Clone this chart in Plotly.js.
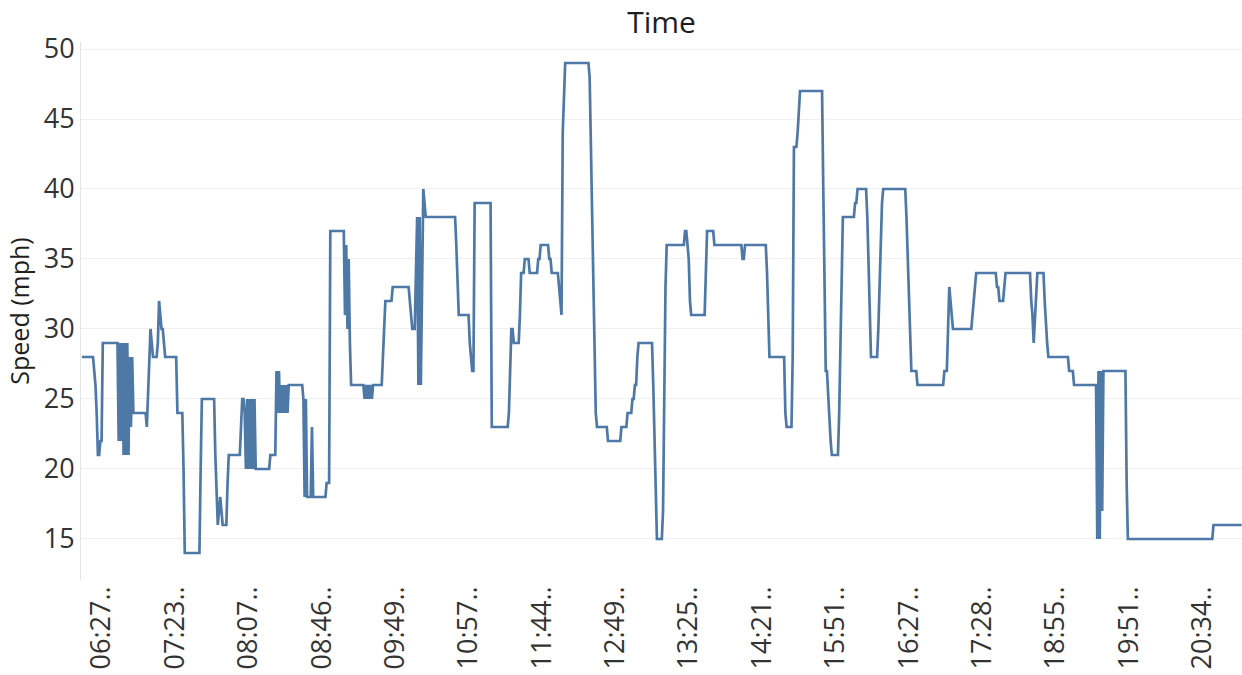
<!DOCTYPE html>
<html>
<head>
<meta charset="utf-8">
<script src="https://cdn.plot.ly/plotly-3.0.1.min.js"></script>
<style>
  html, body { margin: 0; padding: 0; background: #fff; }
  #plot { width: 1242px; height: 675px; }
</style>
</head>
<body>
<div id="plot"></div>
<script>
// speed per record, in record order (mph), 20 records per row
const speed = [
  28,28,28,28,28,28,28,28,28,28,27,26,24,21,21,22,22,29,29,29,
  29,29,29,29,29,29,29,29,29,29,22,29,22,29,21,29,21,29,21,28,
  23,28,24,24,24,24,24,24,24,24,24,24,24,23,25,28,30,29,28,28,
  28,28,29,32,31,30,30,29,28,28,28,28,28,28,28,28,28,28,24,24,
  24,24,24,20,14,14,14,14,14,14,14,14,14,14,14,14,14,20,25,25,
  25,25,25,25,25,25,25,25,25,21,18,16,17,18,17,16,16,16,16,19,
  21,21,21,21,21,21,21,21,21,21,23,25,25,24,20,25,20,25,20,25,
  20,25,20,20,20,20,20,20,20,20,20,20,20,20,21,21,21,21,21,27,
  24,27,24,26,24,26,24,26,24,26,26,26,26,26,26,26,26,26,26,26,
  26,25,18,25,18,18,18,18,23,18,18,18,18,18,18,18,18,18,18,18,
  19,19,19,37,37,37,37,37,37,37,37,37,37,37,37,31,36,30,35,29,
  26,26,26,26,26,26,26,26,26,26,26,25,26,25,26,25,26,25,26,26,
  26,26,26,26,26,26,28,30,32,32,32,32,32,32,33,33,33,33,33,33,
  33,33,33,33,33,33,33,33,32,31,30,30,30,34,38,26,38,26,34,40,
  39,38,38,38,38,38,38,38,38,38,38,38,38,38,38,38,38,38,38,38,
  38,38,38,38,38,38,36,33,31,31,31,31,31,31,31,31,31,29,28,27,
  27,39,39,39,39,39,39,39,39,39,39,39,39,39,39,23,23,23,23,23,
  23,23,23,23,23,23,23,23,23,24,27,30,30,29,29,29,29,29,31,34,
  34,34,35,35,35,35,34,34,34,34,34,34,34,35,35,36,36,36,36,36,
  36,36,35,35,34,34,34,34,34,34,33,32,31,44,47,49,49,49,49,49,
  49,49,49,49,49,49,49,49,49,49,49,49,49,49,49,48,43,38,32,27,
  24,23,23,23,23,23,23,23,23,23,22,22,22,22,22,22,22,22,22,22,
  22,23,23,23,23,23,24,24,24,24,25,25,26,26,28,29,29,29,29,29,
  29,29,29,29,29,29,29,26,22,18,15,15,15,15,15,17,25,33,36,36,
  36,36,36,36,36,36,36,36,36,36,36,36,36,37,37,36,35,32,31,31,
  31,31,31,31,31,31,31,31,31,31,34,37,37,37,37,37,37,36,36,36,
  36,36,36,36,36,36,36,36,36,36,36,36,36,36,36,36,36,36,36,36,
  35,35,36,36,36,36,36,36,36,36,36,36,36,36,36,36,36,36,36,36,
  34,31,28,28,28,28,28,28,28,28,28,28,28,28,28,24,23,23,23,23,
  23,28,43,43,43,44,46,47,47,47,47,47,47,47,47,47,47,47,47,47,
  47,47,47,47,47,47,40,33,27,27,25,23,22,21,21,21,21,21,21,24,
  28,34,38,38,38,38,38,38,38,38,38,38,39,39,40,40,40,40,40,40,
  40,40,38,34,31,28,28,28,28,28,28,30,33,36,39,40,40,40,40,40,
  40,40,40,40,40,40,40,40,40,40,40,40,40,40,38,35,32,29,27,27,
  27,27,27,26,26,26,26,26,26,26,26,26,26,26,26,26,26,26,26,26,
  26,26,26,26,26,27,27,27,30,33,32,31,30,30,30,30,30,30,30,30,
  30,30,30,30,30,30,30,30,31,32,33,34,34,34,34,34,34,34,34,34,
  34,34,34,34,34,34,34,34,33,33,32,32,32,32,33,34,34,34,34,34,
  34,34,34,34,34,34,34,34,34,34,34,34,34,34,34,34,32,31,29,31,
  33,34,34,34,34,34,34,32,30,29,28,28,28,28,28,28,28,28,28,28,
  28,28,28,28,28,28,28,27,27,27,27,26,26,26,26,26,26,26,26,26,
  26,26,26,26,26,26,26,26,26,26,15,27,15,27,17,27,27,27,27,27,
  27,27,27,27,27,27,27,27,27,27,27,27,27,27,19,15,15,15,15,15,
  15,15,15,15,15,15,15,15,15,15,15,15,15,15,15,15,15,15,15,15,
  15,15,15,15,15,15,15,15,15,15,15,15,15,15,15,15,15,15,15,15,
  15,15,15,15,15,15,15,15,15,15,15,15,15,15,15,15,15,15,15,15,
  15,15,15,15,15,16,16,16,16,16,16,16,16,16,16,16,16,16,16,16,
  16,16,16,16,16,16,16,16,16
];

// every 60th record carries a (truncated) time label, starting at record 16
const tickLabels = [
  '06:27..', '07:23..', '08:07..', '08:46..', '09:49..', '10:57..', '11:44..', '12:49..',
  '13:25..', '14:21..', '15:51..', '16:27..', '17:28..', '18:55..', '19:51..', '20:34..'
];
const firstTick = 16;
const tickStep = 60;

const record = speed.map((v, i) => i);
const tickVals = tickLabels.map((t, j) => firstTick + j * tickStep);

const FONT = '"Open Sans", "DejaVu Sans", sans-serif';
const TEXT = '#333333';

const data = [{
  x: record,
  y: speed,
  type: 'scatter',
  mode: 'lines',
  line: { color: '#4e79a7', width: 2.7 },
  hoverinfo: 'skip'
}];

const layout = {
  width: 1242,
  height: 675,
  paper_bgcolor: '#ffffff',
  plot_bgcolor: '#ffffff',
  showlegend: false,
  font: { family: FONT, color: TEXT },
  margin: { l: 81, r: 0, t: 42, b: 95, pad: 0 },
  title: {
    text: 'Time',
    font: { family: FONT, size: 30, color: '#1e1e1e' },
    x: 0.5, xref: 'paper', xanchor: 'center',
    y: 1 - 22 / 675, yref: 'container', yanchor: 'middle'
  },
  xaxis: {
    range: [-0.82, 948.3],
    tickvals: tickVals,
    ticktext: tickLabels,
    tickangle: -90,
    tickfont: { family: FONT, size: 27, color: TEXT },
    ticks: '',
    showgrid: false,
    zeroline: false,
    showline: false,
    fixedrange: true
  },
  yaxis: {
    range: [12.07, 50.5],
    tick0: 0,
    dtick: 5,
    tickfont: { family: FONT, size: 27, color: TEXT },
    ticks: '',
    gridcolor: '#f0f0f0',
    gridwidth: 1,
    zeroline: false,
    showline: true,
    linecolor: '#e4e4e4',
    linewidth: 1,
    title: {
      text: 'Speed (mph)',
      font: { family: FONT, size: 25, color: '#1e1e1e' },
      standoff: 6
    },
    fixedrange: true
  }
};

Plotly.newPlot('plot', data, layout, { displayModeBar: false, staticPlot: true });
</script>
</body>
</html>
